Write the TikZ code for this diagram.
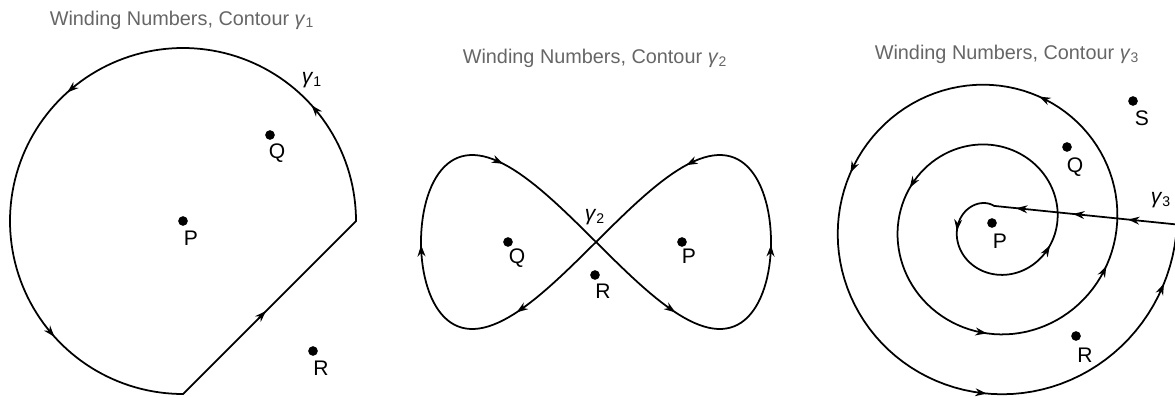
\documentclass[tikz,border=0pt]{standalone}
\usepackage{fontspec}
\setmainfont{Liberation Sans}
\usepackage{tikz}
\usetikzlibrary{positioning,arrows.meta}

\newcommand{\gam}[1]{\textit{γ}\textsubscript{#1}}

\tikzset{
    curve/.style={line width=1pt},
    tip/.style={-{Stealth[length=6.5pt,width=4.5pt]}, line width=1pt},
    dot/.style={circle, fill=black, inner sep=0pt, minimum size=5.5pt},
    lbl/.style={font=\fontsize{12}{14}\selectfont, inner sep=0pt, anchor=base},
    ttl/.style={font=\fontsize{11.3}{13}\selectfont, text=black!60, inner sep=0pt, anchor=base}
}

\begin{document}
\begin{tikzpicture}[x=0.02cm, y=-0.02cm]
    \useasboundingbox (0,0) rectangle (1175,396);

    % contour gamma 1: circle arc closed by a chord
    \node[ttl] (title1) at (182,25) {Winding Numbers, Contour \gam{1}};
    \draw[curve] plot[domain=0:270, samples=136] ({183+173*cos(\x)},{221-173*sin(\x)}) -- cycle;
    \foreach \a in {42,132,222}
        \draw[tip] ({183+173*cos(\a-3)},{221-173*sin(\a-3)}) -- ({183+173*cos(\a)},{221-173*sin(\a)});
    \draw[tip] (259,318) -- (266,311);
    \node[lbl] (gam1) at (312,83) {\gam{1}};

    \node[dot] (P1) at (183,221) {};
    \node[dot] (Q1) at (270,135) {};
    \node[dot] (R1) at (313,351) {};
    \node[lbl] at (191,245) {P};
    \node[lbl] at (277,158) {Q};
    \node[lbl] at (321,375) {R};

    % contour gamma 2: figure eight
    \node[ttl] (title2) at (595,63) {Winding Numbers, Contour \gam{2}};
    \draw[curve] plot[domain=0:360, samples=181] ({596+175*cos(\x)},{242-87*sin(2*\x)});
    \foreach \a in {-1,59,117,179,238,297}
        \draw[tip] ({596+175*cos(\a-3)},{242-87*sin(2*(\a-3))}) -- ({596+175*cos(\a)},{242-87*sin(2*\a)});
    \node[lbl] (gam2) at (595,220) {\gam{2}};

    \node[dot] (Q2) at (508,242) {};
    \node[dot] (P2) at (682,242) {};
    \node[dot] (R2) at (595,275) {};
    \node[lbl] at (517,263) {Q};
    \node[lbl] at (689,263) {P};
    \node[lbl] at (603,298) {R};

    % contour gamma 3: spiral closed by a straight line
    \node[ttl] (title3) at (1007,59) {Winding Numbers, Contour \gam{3}};
    \draw[curve] plot[domain=85:1080, samples=300] ({992.5+(4.5+\x/6)*cos(\x)},{224.5-(4.5+\x/6)*sin(\x)}) -- cycle;
    \foreach \a in {190,340,516,627,700,790,880,988,1061}
        \draw[tip] ({992.5+(4.5+(\a-3)/6)*cos(\a-3)},{224.5-(4.5+(\a-3)/6)*sin(\a-3)})
            -- ({992.5+(4.5+\a/6)*cos(\a)},{224.5-(4.5+\a/6)*sin(\a)});
    \foreach \u in {1016,1073,1128}
        \draw[tip] (\u+7,{205.9+(\u+7-994)*0.1016}) -- (\u,{205.9+(\u-994)*0.1016});
    \node[lbl] (gam3) at (1161,203) {\gam{3}};

    \node[dot] (S3) at (1133,101) {};
    \node[dot] (Q3) at (1067,147) {};
    \node[dot] (P3) at (992,223) {};
    \node[dot] (R3) at (1076,336) {};
    \node[lbl] at (1142,125) {S};
    \node[lbl] at (1075,172) {Q};
    \node[lbl] at (1000,248) {P};
    \node[lbl] at (1085,362) {R};
\end{tikzpicture}
\end{document}
